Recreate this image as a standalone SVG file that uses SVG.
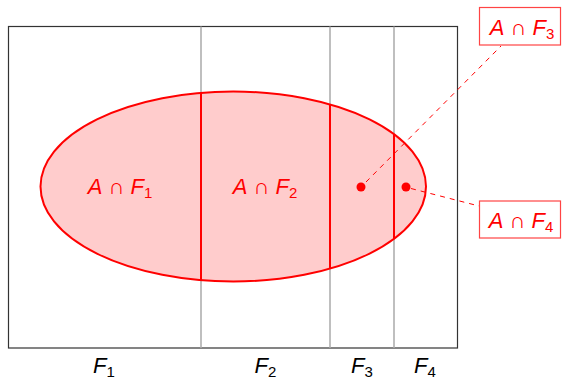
<svg xmlns="http://www.w3.org/2000/svg" width="562" height="379" viewBox="0 0 562 379">
<style>
.lbl{font-family:"Liberation Sans","DejaVu Sans",sans-serif;font-size:22px;fill:#ff0000}
.blk{fill:#000}
.it{font-style:italic}
.sub{font-size:15px}
.grid{stroke:#aaaaaa;stroke-width:1.5;fill:none}
.cut{stroke:#ff0000;stroke-width:2;fill:none}
.dash{stroke:#ff0000;stroke-width:1;stroke-dasharray:5 5;fill:none}
.box{fill:#ffffff;stroke:#ff4444;stroke-width:1.2}
</style>
<rect width="562" height="379" fill="#ffffff"/>
<g id="frame">
<rect x="8.5" y="26.5" width="449" height="321.5" fill="none" stroke="#333333" stroke-width="1.2"/>
<line class="grid" x1="201" y1="26.5" x2="201" y2="348"/>
<line class="grid" x1="330" y1="26.5" x2="330" y2="348"/>
<line class="grid" x1="394" y1="26.5" x2="394" y2="348"/>
</g>
<g id="setA">
<ellipse cx="233.25" cy="186.5" rx="192.75" ry="95" fill="#ffcccc" stroke="#ff0000" stroke-width="2"/>
<line class="cut" x1="201" y1="92.8" x2="201" y2="280.2"/>
<line class="cut" x1="330" y1="104.3" x2="330" y2="268.7"/>
<line class="cut" x1="394" y1="134.1" x2="394" y2="238.9"/>
<circle cx="361" cy="187" r="4.5" fill="#ff0000"/>
<circle cx="406" cy="187" r="4.5" fill="#ff0000"/>
<text class="lbl" x="120" y="194" text-anchor="middle"><tspan class="it">A</tspan> ∩ <tspan class="it">F</tspan><tspan class="sub" dy="4">1</tspan></text>
<text class="lbl" x="265" y="194" text-anchor="middle"><tspan class="it">A</tspan> ∩ <tspan class="it">F</tspan><tspan class="sub" dy="4">2</tspan></text>
</g>
<g id="connectors">
<line class="dash" x1="366" y1="182" x2="501" y2="46"/>
<line class="dash" x1="411" y1="188.5" x2="479" y2="206"/>
</g>
<g id="label-F3">
<rect class="box" x="479.5" y="7.5" width="81" height="37.5"/>
<text class="lbl" x="522" y="35" text-anchor="middle"><tspan class="it">A</tspan> ∩ <tspan class="it">F</tspan><tspan class="sub" dy="4">3</tspan></text>
</g>
<g id="label-F4">
<rect class="box" x="479.5" y="201" width="81" height="37"/>
<text class="lbl" x="521" y="228" text-anchor="middle"><tspan class="it">A</tspan> ∩ <tspan class="it">F</tspan><tspan class="sub" dy="4">4</tspan></text>
</g>
<g id="axis-labels">
<text class="lbl blk" x="104" y="373" text-anchor="middle"><tspan class="it">F</tspan><tspan class="sub" dy="4">1</tspan></text>
<text class="lbl blk" x="265.5" y="373" text-anchor="middle"><tspan class="it">F</tspan><tspan class="sub" dy="4">2</tspan></text>
<text class="lbl blk" x="362" y="373" text-anchor="middle"><tspan class="it">F</tspan><tspan class="sub" dy="4">3</tspan></text>
<text class="lbl blk" x="425" y="373" text-anchor="middle"><tspan class="it">F</tspan><tspan class="sub" dy="4">4</tspan></text>
</g>
</svg>
